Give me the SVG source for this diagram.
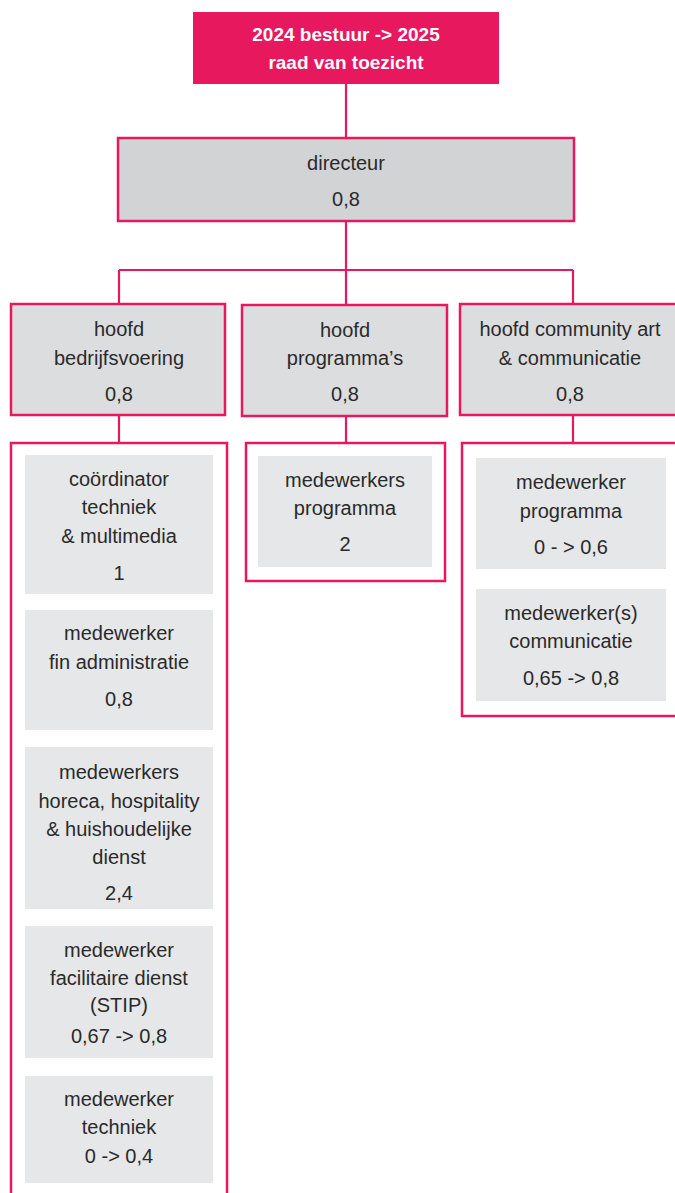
<svg xmlns="http://www.w3.org/2000/svg" width="675" height="1193" viewBox="0 0 675 1193">
<style>
text{font-family:"Liberation Sans",Arial,sans-serif;font-size:20px;fill:#2a2a2a;text-anchor:middle}
.top{fill:#E8185F}
.topt{fill:#ffffff;font-weight:bold;font-size:19px}
.dir{fill:#D1D3D4;stroke:#E8185F;stroke-width:2.5}
.head{fill:#DCDDDF;stroke:#E8185F;stroke-width:2.5}
.grp{fill:#ffffff;stroke:#E8185F;stroke-width:2.5}
.inner{fill:#E6E7E8}
.conn{fill:none;stroke:#E8185F;stroke-width:2.2}
</style>
<g id="connectors">
<path class="conn" d="M346,84V137 M346,221V270 M119,270H573 M119,270V304 M346,270V305 M573,270V304 M119,416V443 M346,417V443 M573,416V443"/>
</g>
<g id="bestuur">
<rect class="top" x="193" y="12" width="306" height="72"/>
<text class="topt" x="346" y="41">2024 bestuur -&gt; 2025</text>
<text class="topt" x="346" y="69">raad van toezicht</text>
</g>
<g id="directeur">
<rect class="dir" x="118" y="138" width="456" height="83"/>
<text x="346" y="170">directeur</text>
<text x="346" y="206">0,8</text>
</g>
<g id="hoofd-bedrijfsvoering">
<rect class="head" x="11" y="304" width="214" height="111"/>
<text x="119" y="336">hoofd</text>
<text x="119" y="365">bedrijfsvoering</text>
<text x="119" y="401">0,8</text>
</g>
<g id="hoofd-programmas">
<rect class="head" x="242" y="305" width="205" height="111"/>
<text x="345" y="337">hoofd</text>
<text x="345" y="365">programma’s</text>
<text x="345" y="401">0,8</text>
</g>
<g id="hoofd-community">
<rect class="head" x="460" y="304" width="230" height="111"/>
<text x="570" y="336">hoofd community art</text>
<text x="570" y="365">&amp; communicatie</text>
<text x="570" y="401">0,8</text>
</g>
<g id="groep-bedrijfsvoering">
<rect class="grp" x="11" y="443" width="216" height="770"/>
</g>
<g id="coordinator-techniek">
<rect class="inner" x="25" y="455" width="188" height="139"/>
<text x="119" y="486">coördinator</text>
<text x="119" y="514">techniek</text>
<text x="119" y="543">&amp; multimedia</text>
<text x="119" y="580">1</text>
</g>
<g id="fin-administratie">
<rect class="inner" x="25" y="610" width="188" height="120"/>
<text x="119" y="640">medewerker</text>
<text x="119" y="669">fin administratie</text>
<text x="119" y="706">0,8</text>
</g>
<g id="horeca">
<rect class="inner" x="25" y="747" width="188" height="162"/>
<text x="119" y="779">medewerkers</text>
<text x="119" y="808">horeca, hospitality</text>
<text x="119" y="836">&amp; huishoudelijke</text>
<text x="119" y="864">dienst</text>
<text x="119" y="900">2,4</text>
</g>
<g id="facilitaire-dienst">
<rect class="inner" x="25" y="926" width="188" height="132"/>
<text x="119" y="957">medewerker</text>
<text x="119" y="985">facilitaire dienst</text>
<text x="119" y="1012">(STIP)</text>
<text x="119" y="1043">0,67 -&gt; 0,8</text>
</g>
<g id="medewerker-techniek">
<rect class="inner" x="25" y="1076" width="188" height="107"/>
<text x="119" y="1106">medewerker</text>
<text x="119" y="1134">techniek</text>
<text x="119" y="1163">0 -&gt; 0,4</text>
</g>
<g id="groep-programmas">
<rect class="grp" x="246" y="443" width="199" height="138"/>
</g>
<g id="medewerkers-programma">
<rect class="inner" x="258" y="456" width="174" height="111"/>
<text x="345" y="487">medewerkers</text>
<text x="345" y="515">programma</text>
<text x="345" y="551">2</text>
</g>
<g id="groep-community">
<rect class="grp" x="462" y="443" width="230" height="273"/>
</g>
<g id="medewerker-programma">
<rect class="inner" x="476" y="458" width="190" height="111"/>
<text x="571" y="489">medewerker</text>
<text x="571" y="518">programma</text>
<text x="571" y="554">0 - &gt; 0,6</text>
</g>
<g id="medewerker-communicatie">
<rect class="inner" x="476" y="589" width="190" height="112"/>
<text x="571" y="620">medewerker(s)</text>
<text x="571" y="648">communicatie</text>
<text x="571" y="685">0,65 -&gt; 0,8</text>
</g>
</svg>
